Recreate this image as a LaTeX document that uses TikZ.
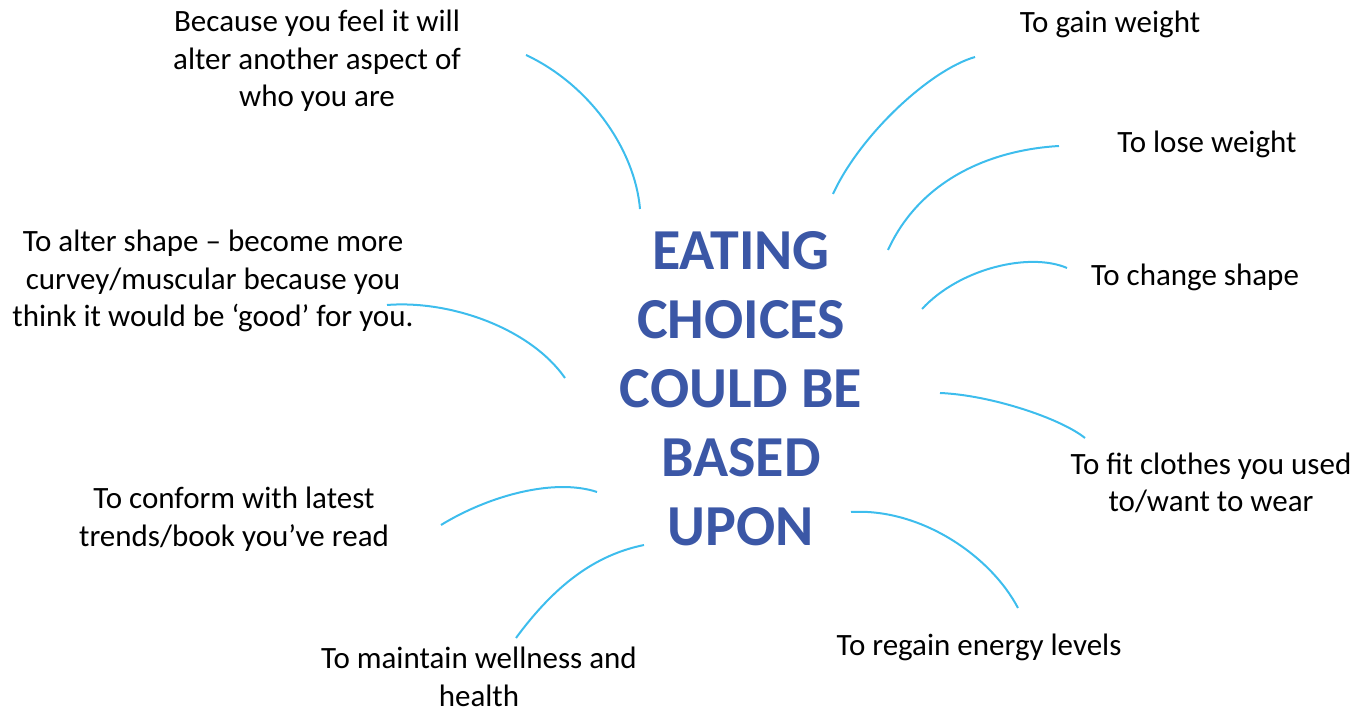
\documentclass[tikz,border=0pt]{standalone}
\usepackage{fontspec}
\setmainfont{Carlito}
\definecolor{titleblue}{RGB}{59,87,166}
\definecolor{linkcyan}{RGB}{61,189,237}
\begin{document}
\begin{tikzpicture}[x=0.5pt,y=-0.5pt,
    reason/.style={align=center,inner sep=0pt,font={\fontsize{15.5}{18.75}\selectfont}},
    hub/.style={align=center,inner sep=0pt,text=titleblue,font={\fontsize{29}{34.5}\selectfont\bfseries}},
    link/.style={draw=linkcyan,line width=1pt}]
    \useasboundingbox (0,0) rectangle (1365,710);
    %centre
    \node[hub] (hub) at (741,389) {EATING\\CHOICES\\COULD BE\\BASED\\UPON};
    %reasons
    \node[reason] (aspect) at (317,61) {Because you feel it will\\alter another aspect of\\who you are};
    \node[reason] (gain) at (1110,24) {To gain weight};
    \node[reason] (lose) at (1207,144) {To lose weight};
    \node[reason] (change) at (1195,277) {To change shape};
    \node[reason] (alter) at (213,281) {To alter shape -- become more\\curvey/muscular because you\\think it would be `good' for you.};
    \node[reason] (fit) at (1211,483) {To fit clothes you used\\to/want to wear};
    \node[reason] (conform) at (234,519) {To conform with latest\\trends/book you've read};
    \node[reason] (energy) at (979,647) {To regain energy levels};
    \node[reason] (maintain) at (479,677) {To maintain wellness and\\health};
    %arc ends
    \coordinate (aspect-a) at (526,55);   \coordinate (aspect-b) at (640,209);
    \coordinate (gain-a) at (833,194);    \coordinate (gain-b) at (975,57);
    \coordinate (lose-a) at (888,250);    \coordinate (lose-b) at (1059,146);
    \coordinate (change-a) at (922,309);  \coordinate (change-b) at (1067,268);
    \coordinate (fit-a) at (940,393);     \coordinate (fit-b) at (1085,438);
    \coordinate (energy-a) at (851,512);  \coordinate (energy-b) at (1018,608);
    \coordinate (alter-a) at (387,305);   \coordinate (alter-b) at (565,378);
    \coordinate (conform-a) at (441,525); \coordinate (conform-b) at (597,492);
    \coordinate (maintain-a) at (516,638); \coordinate (maintain-b) at (644,545);
    %arcs
    \draw[link] (aspect-a) .. controls (590,85) and (635,150) .. (aspect-b);
    \draw[link] (gain-a) .. controls (860,135) and (930,70) .. (gain-b);
    \draw[link] (lose-a) .. controls (920,180) and (990,150) .. (lose-b);
    \draw[link] (change-a) .. controls (960,268) and (1030,252) .. (change-b);
    \draw[link] (fit-a) .. controls (990,395) and (1060,418) .. (fit-b);
    \draw[link] (energy-a) .. controls (920,508) and (990,555) .. (energy-b);
    \draw[link] (alter-a) .. controls (450,300) and (530,328) .. (alter-b);
    \draw[link] (conform-a) .. controls (490,495) and (555,478) .. (conform-b);
    \draw[link] (maintain-a) .. controls (555,585) and (595,555) .. (maintain-b);
\end{tikzpicture}
\end{document}
